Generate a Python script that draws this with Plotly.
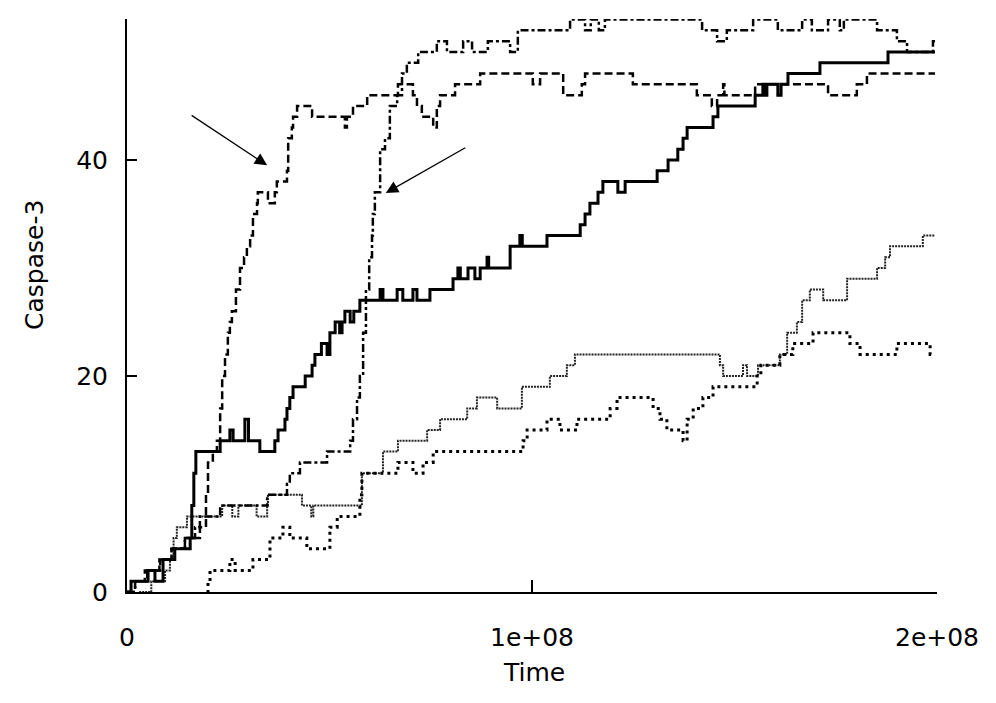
import plotly.graph_objects as go

# Time values are in units of 1e6 (converted to absolute time below)
solid_t = [0, 1.0, 5.2, 6.9, 8.9, 11.8, 15.6, 16.0, 16.5, 17.0, 23.0, 25.4, 26.2, 29.1, 30.0, 32.8, 36.5, 37.3, 39.0,
           39.5, 40.2, 41.0, 44.0, 45.7, 46.4, 48.0, 49.4, 50.1, 51.4, 52.5, 53.1, 53.8, 55.1, 56.0, 57.5, 62.5,
           63.2, 66.7, 68.1, 70.6, 71.6, 74.8, 78.0, 80.5, 81.7, 82.3, 84.2, 85.9, 87.2, 88.9, 89.3, 94.6, 97.0,
           97.6, 103.7, 111.9, 113.1, 114.3, 116.3, 117.5, 121.2, 123.0, 130.9, 133.6, 136.0, 137.3, 138.3,
           144.7, 145.9, 155.1, 157.0, 157.5, 158.0, 160.7, 161.5, 163.2, 171.1, 187.9, 199.5]
solid_v = [0, 1, 2, 1, 3, 4, 5, 8, 11, 13, 14, 15, 14, 16, 14, 13, 14, 15, 16,
           17, 18, 19, 20, 21, 22, 23, 22, 24, 25, 24, 25, 26, 25, 26, 27, 28,
           27, 28, 27, 28, 27, 28, 28, 29, 30, 29, 30, 29, 30, 31, 30, 32, 33,
           32, 33, 34, 35, 36, 37, 38, 37, 38, 39, 40, 41, 42, 43,
           44, 45, 46, 47, 46, 47, 46, 47, 48, 49, 50, 50]

dash_t = [0, 2.0, 4.4, 8.2, 11.0, 14.3, 18.0, 19.5, 20.0, 21.2, 22.2, 23.0, 23.5, 24.2, 24.9, 25.4, 25.9, 26.9,
          27.9, 28.9, 29.6, 30.4, 31.1, 32.1, 32.3, 34.8, 36.5, 37.0, 39.5, 39.8, 40.7, 41.0, 42.0, 45.7, 53.8,
          54.3, 55.8, 59.3, 66.9, 70.6, 71.6, 72.8, 75.6, 76.5, 77.3, 81.0, 87.2, 100.2, 102.0, 107.7, 112.3,
          113.1, 124.9, 140.7, 144.4, 145.7, 147.2, 147.5, 155.1, 173.1, 180.2, 182.7, 199.5]
dash_v = [0, 1, 2, 3, 4, 5, 6, 9, 12, 13, 14, 17, 20, 22, 24, 25, 26, 28,
          30, 31, 32, 33, 35, 36, 37, 36, 37, 38, 39, 42, 43, 44, 45, 44, 43,
          44, 45, 46, 47, 46, 45, 44, 43, 45, 46, 47, 48, 47, 48, 46, 47,
          48, 47, 46, 45, 46, 47, 46, 47, 46, 47, 48, 48]

dashdot_t = [0, 2.0, 5.0, 8.0, 11.0, 14.3, 16.8, 18.0, 23.0, 34.6, 39.5, 40.2, 42.7, 49.4, 54.3, 55.1, 55.8,
             56.8, 57.5, 58.3, 59.0, 59.8, 60.5, 60.7, 61.2, 62.5, 63.7, 64.9, 66.7, 67.9, 69.1, 71.9, 76.5,
             79.0, 83.0, 85.2, 89.1, 94.6, 96.5, 109.4, 113.1, 114.5, 116.5, 118.0, 142.0, 145.7, 148.1,
             154.6, 160.7, 166.7, 169.1, 173.1, 176.0, 177.0, 185.2, 190.1, 192.6, 199.0, 199.5]
dashdot_v = [0, 1, 2, 3, 4, 5, 6, 7, 8, 9, 10, 11, 12, 13, 13, 14, 16,
             18, 20, 24, 28, 31, 33, 35, 37, 41, 42, 45, 46, 48, 49, 50, 51,
             50, 51, 50, 51, 50, 52, 53, 52, 53, 52, 53, 52, 51, 52,
             53, 52, 53, 52, 53, 52, 53, 52, 51, 50, 51, 51]

fine_t = [3.0, 6.0, 9.4, 10.6, 11.5, 12.3, 14.8, 23.0, 23.5, 26.0, 27.5, 32.0, 34.6, 34.8, 43.2, 45.5, 46.0,
          57.5, 58.0, 63.2, 66.9, 74.1, 77.3, 84.0, 86.4, 91.4, 97.5, 104.4, 108.6, 110.6, 146.4, 147.2,
          152.1, 153.1, 155.8, 161.2, 163.0, 165.4, 166.7, 168.6, 171.9, 177.8, 185.2, 187.2, 188.4, 196.5, 199.5]
fine_v = [0, 1, 2, 3, 5, 6, 7, 7, 8, 7, 8, 7, 8, 9, 8, 7, 8,
          8, 11, 13, 14, 15, 16, 17, 18, 17, 19, 20, 21, 22, 21, 20,
          21, 20, 21, 22, 24, 25, 27, 28, 27, 29, 30, 31, 32, 33, 33]

coarse_t = [19.75, 20.0, 20.5, 25.4, 26.7, 31.1, 35.3, 38.5, 40.2, 44.4, 50.1, 51.9, 57.5, 58.0, 66.9, 70.6,
            73.1, 75.6, 97.8, 98.8, 103.7, 106.9, 111.1, 119.3, 121.0, 129.9, 131.6, 133.3, 137.3, 138.3,
            139.8, 142.2, 144.7, 155.6, 156.5, 161.2, 164.4, 169.4, 178.5, 181.0, 190.1, 198.3, 199.5]
coarse_v = [0, 1, 2, 3, 2, 3, 5, 6, 5, 4, 6, 7, 9, 11, 12, 11,
            12, 13, 14, 15, 16, 15, 16, 17, 18, 17, 16, 15, 14, 16,
            17, 18, 19, 20, 21, 22, 23, 24, 23, 22, 23, 22, 22]

x_ticks = [0, 1e8, 2e8]
x_tick_text = ["0", "1e+08", "2e+08"]
y_ticks = [0, 20, 40]
y_tick_text = ["0", "20", "40"]

SCALE = 1e6

FONT = "DejaVu Sans, Verdana, sans-serif"

fig = go.Figure()

def add(t, v, dash, width, color="black"):
    fig.add_trace(go.Scatter(x=[a * SCALE for a in t], y=v, mode="lines", line_shape="hv",
                             line=dict(color=color, width=width, dash=dash), showlegend=False,
                             hoverinfo="skip"))

add(fine_t, fine_v, "2px,1px", 2, "#222222")
add(coarse_t, coarse_v, "3px,4px", 3)
add(dash_t, dash_v, "8px,4px", 2.5)
add(dashdot_t, dashdot_v, "8px,3px,3px,3px", 2.5)
add(solid_t, solid_v, "solid", 3)

# page body has an 8px margin; target plot area in screen px: x 127..937, y 19..592
OFF = 8
W, H = 988, 695
L, T = 127 - OFF, 19 - OFF
R = W - (937 - OFF)
B = H - (592 - OFF)
pw, ph = W - L - R, H - T - B

def px(x):
    return (x - OFF - L) / pw

def py(y):
    return (H - B - (y - OFF)) / ph

fig.update_layout(
    width=W, height=H,
    margin=dict(l=L, r=R, t=T, b=B),
    paper_bgcolor="white", plot_bgcolor="white",
    font=dict(family=FONT, size=25, color="black"),
    xaxis=dict(range=[0, 2e8], tickvals=x_ticks, ticktext=x_tick_text, ticks="inside", ticklen=12,
               tickwidth=1.5, tickcolor="black", showline=True, linecolor="black", linewidth=2,
               showgrid=False, zeroline=False, ticklabelstandoff=22,
               tickfont=dict(family=FONT, size=25)),
    yaxis=dict(range=[0, 53.05], tickvals=y_ticks, ticktext=y_tick_text, ticks="inside", ticklen=10,
               tickwidth=1.5, tickcolor="black", showline=True, linecolor="black", linewidth=2,
               showgrid=False, zeroline=False, ticklabelstandoff=12,
               tickfont=dict(family=FONT, size=25)),
    annotations=[
        dict(text="Time", xref="paper", yref="paper", x=px(534), y=py(672), showarrow=False,
             font=dict(family=FONT, size=25), xanchor="center", yanchor="middle"),
        dict(text="Caspase-3", xref="paper", yref="paper", x=px(34), y=py(265), showarrow=False,
             textangle=-90, font=dict(family=FONT, size=25), xanchor="center", yanchor="middle"),
        dict(text="", x=34.6e6, y=39.5, xref="x", yref="y", ax=-77, ay=-51, showarrow=True,
             arrowhead=2, arrowsize=1.9, arrowwidth=1.3, arrowcolor="black"),
        dict(text="", x=63.9e6, y=36.95, xref="x", yref="y", ax=81, ay=-46, showarrow=True,
             arrowhead=2, arrowsize=1.9, arrowwidth=1.3, arrowcolor="black"),
    ],
)

fig.write_html("out.html")
